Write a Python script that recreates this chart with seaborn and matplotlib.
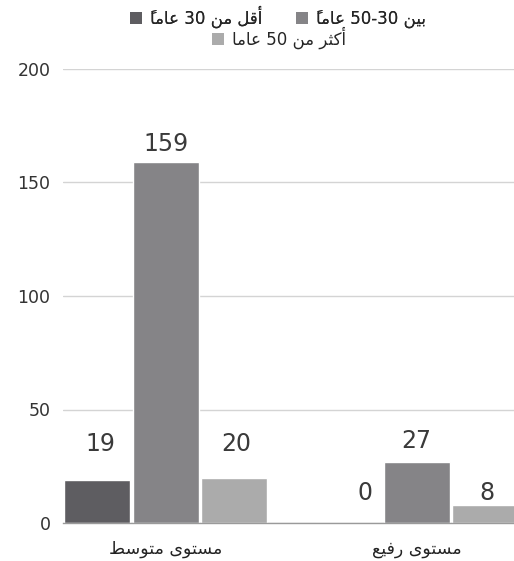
import matplotlib
matplotlib.use("Agg")
import matplotlib.pyplot as plt
import numpy as np
import pandas as pd
import seaborn as sns
from matplotlib.patches import Patch

# ---------------- data ----------------
categories = ["مستوى متوسط", "مستوى رفيع"]
series_names = ["أقل من 30 عاماً", "بين 30-50 عاماً", "أكثر من 50 عاما"]
values_under30 = [19, 0]
values_30_50 = [159, 27]
values_over50 = [20, 8]
y_ticks = [0, 50, 100, 150, 200]

colors = ["#5e5d61", "#858487", "#ababab"]

# label offsets (points) per series / bar : styling only
label_dy = [[21, 16.5], [8, 10], [19, 3.6]]
label_dx = [[2, 12.5], [0, 0], [1, 1]]

# ---------------- minimal Arabic shaping (matplotlib has no RTL/shaping) ----------------
FORMS = {  # isolated, final, initial, medial
    "\u0627": ("\uFE8D", "\uFE8E", None, None),
    "\u0623": ("\uFE83", "\uFE84", None, None),
    "\u0628": ("\uFE8F", "\uFE90", "\uFE91", "\uFE92"),
    "\u062A": ("\uFE95", "\uFE96", "\uFE97", "\uFE98"),
    "\u062B": ("\uFE99", "\uFE9A", "\uFE9B", "\uFE9C"),
    "\u0631": ("\uFEAD", "\uFEAE", None, None),
    "\u0633": ("\uFEB1", "\uFEB2", "\uFEB3", "\uFEB4"),
    "\u0637": ("\uFEC1", "\uFEC2", "\uFEC3", "\uFEC4"),
    "\u0639": ("\uFEC9", "\uFECA", "\uFECB", "\uFECC"),
    "\u0641": ("\uFED1", "\uFED2", "\uFED3", "\uFED4"),
    "\u0642": ("\uFED5", "\uFED6", "\uFED7", "\uFED8"),
    "\u0643": ("\uFED9", "\uFEDA", "\uFEDB", "\uFEDC"),
    "\u0644": ("\uFEDD", "\uFEDE", "\uFEDF", "\uFEE0"),
    "\u0645": ("\uFEE1", "\uFEE2", "\uFEE3", "\uFEE4"),
    "\u0646": ("\uFEE5", "\uFEE6", "\uFEE7", "\uFEE8"),
    "\u0648": ("\uFEED", "\uFEEE", None, None),
    "\u0649": ("\uFEEF", "\uFEF0", "\uFBE8", "\uFBE9"),
    "\u064A": ("\uFEF1", "\uFEF2", "\uFEF3", "\uFEF4"),
}
MARKS = set("\u064B\u064C\u064D\u064E\u064F\u0650\u0651\u0652")


def is_dual(c):
    return c in FORMS and FORMS[c][2] is not None


def shape_run(run):
    clusters = []  # [base, marks]
    for ch in run:
        if ch in MARKS and clusters:
            clusters[-1][1] += ch
        else:
            clusters.append([ch, ""])
    out = []
    n = len(clusters)
    for i, (b, m) in enumerate(clusters):
        if b not in FORMS:
            out.append(m + b)
            continue
        prev_join = i > 0 and is_dual(clusters[i - 1][0])
        next_join = is_dual(b) and i < n - 1 and clusters[i + 1][0] in FORMS
        iso, fin, ini, med = FORMS[b]
        if prev_join and next_join:
            g = med
        elif prev_join:
            g = fin
        elif next_join:
            g = ini
        else:
            g = iso
        out.append(m + g)  # mark first: zero-advance glyph drawn over the base
    return "".join(reversed(out))


def visual(text):
    runs = []
    for ch in text:
        if ch in FORMS or ch in MARKS:
            k = "ar"
        elif ch.isdigit():
            k = "num"
        else:
            k = "o"
        if runs and runs[-1][0] == k and k != "o":
            runs[-1][1] += ch
        else:
            runs.append([k, ch])
    parts = []
    for k, s in reversed(runs):
        parts.append(shape_run(s) if k == "ar" else s)
    return "".join(parts)


# ---------------- table ----------------
rows = []
for name, vals in zip(series_names, [values_under30, values_30_50, values_over50]):
    for cat, v in zip(categories, vals):
        rows.append({"level": cat, "age": name, "value": v})
df = pd.DataFrame(rows)

sns.set_theme(style="white")
plt.rcParams["font.family"] = ["DejaVu Sans"]

fig = plt.figure(figsize=(5.14, 5.61), dpi=100)
ax = fig.add_axes([63 / 514, 38 / 561, (514 - 63) / 514, (523 - 69) / 561])

sns.barplot(data=df, x="level", y="value", hue="age", order=categories,
            hue_order=series_names, palette=colors, width=0.82, gap=0.04,
            saturation=1, legend=False, ax=ax, zorder=3)

ax.set_xlim(-0.41, 1.388)
ax.set_ylim(0, 200)
ax.set_yticks(y_ticks)
ax.set_yticklabels([str(t) for t in y_ticks])
ax.yaxis.grid(True, color="#d4d4d4", linewidth=1)
ax.set_axisbelow(True)
for s in ["top", "right", "left"]:
    ax.spines[s].set_visible(False)
ax.spines["bottom"].set_color("#9a9a9a")
ax.spines["bottom"].set_linewidth(1)
ax.spines["bottom"].set_zorder(4)
ax.tick_params(axis="both", length=0)
ax.tick_params(axis="y", pad=9, labelsize=12.5, labelcolor="#333333")
ax.tick_params(axis="x", pad=12, labelsize=12.5, labelcolor="#222222")
ax.set_xticks(range(len(categories)))
ax.set_xticklabels([visual(c) for c in categories])
ax.set_xlabel("")
ax.set_ylabel("")

for si, cont in enumerate(ax.containers):
    for bi, bar in enumerate(cont):
        v = bar.get_height()
        ax.annotate(f"{int(round(v))}", (bar.get_x() + bar.get_width() / 2, v),
                    xytext=(label_dx[si][bi], label_dy[si][bi]), textcoords="offset points",
                    ha="center", va="baseline", fontsize=17, color="#3a3a3a", zorder=5)

handles = [Patch(facecolor=c, edgecolor="none") for c in colors]
leg_kw = dict(loc="center", frameon=False, fontsize=12, handlelength=0.7,
              handleheight=0.7, handletextpad=0.5, borderpad=0, borderaxespad=0)
leg1 = fig.legend(handles[:2], [visual(s) for s in series_names[:2]],
                  bbox_to_anchor=(278 / 514, 1 - 17 / 561), ncol=2,
                  columnspacing=2.0, **leg_kw)
leg2 = fig.legend(handles[2:], [visual(s) for s in series_names[2:]],
                  bbox_to_anchor=(279 / 514, 1 - 38 / 561), ncol=1, **leg_kw)
fig.add_artist(leg1)

fig.savefig("out.png", dpi=100)
